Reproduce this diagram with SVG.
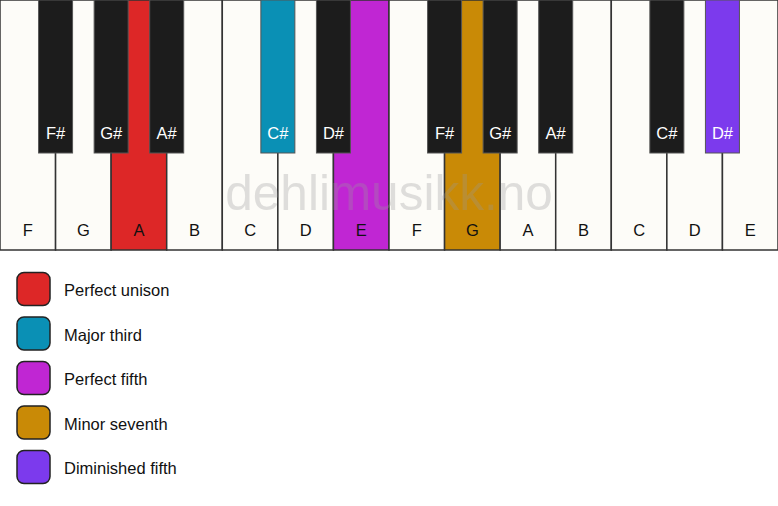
<svg xmlns="http://www.w3.org/2000/svg" width="778" height="506" viewBox="0 0 778 506">
<style>
.w{fill:#fdfcf8;stroke:#333;stroke-width:1.5}
.b{fill:#1c1c1c;stroke:#555;stroke-width:1}
.wl{font-family:"Liberation Sans",Arial,sans-serif;font-size:16.5px;fill:#111;text-anchor:middle}
.bl{font-family:"Liberation Sans",Arial,sans-serif;font-size:16.5px;fill:#fff;text-anchor:middle}
.lg{stroke:#222;stroke-width:1.5}
.lt{font-family:"Liberation Sans",Arial,sans-serif;font-size:16.5px;fill:#111}
</style>
<rect width="778" height="506" fill="#fff"/>
<g id="white-keys">
<g id="w0"><rect class="w" x="0" y="0" width="55.57" height="250"/><text class="wl" x="27.8" y="236">F</text></g>
<g id="w1"><rect class="w" x="55.57" y="0" width="55.57" height="250"/><text class="wl" x="83.4" y="236">G</text></g>
<g id="w2"><rect class="w" x="111.14" y="0" width="55.57" height="250" style="fill:#dd2727"/><text class="wl" x="138.9" y="236">A</text></g>
<g id="w3"><rect class="w" x="166.71" y="0" width="55.57" height="250"/><text class="wl" x="194.5" y="236">B</text></g>
<g id="w4"><rect class="w" x="222.29" y="0" width="55.57" height="250"/><text class="wl" x="250.1" y="236">C</text></g>
<g id="w5"><rect class="w" x="277.86" y="0" width="55.57" height="250"/><text class="wl" x="305.6" y="236">D</text></g>
<g id="w6"><rect class="w" x="333.43" y="0" width="55.57" height="250" style="fill:#c026d3"/><text class="wl" x="361.2" y="236">E</text></g>
<g id="w7"><rect class="w" x="389" y="0" width="55.57" height="250"/><text class="wl" x="416.8" y="236">F</text></g>
<g id="w8"><rect class="w" x="444.57" y="0" width="55.57" height="250" style="fill:#c98a06"/><text class="wl" x="472.4" y="236">G</text></g>
<g id="w9"><rect class="w" x="500.14" y="0" width="55.57" height="250"/><text class="wl" x="527.9" y="236">A</text></g>
<g id="w10"><rect class="w" x="555.71" y="0" width="55.57" height="250"/><text class="wl" x="583.5" y="236">B</text></g>
<g id="w11"><rect class="w" x="611.29" y="0" width="55.57" height="250"/><text class="wl" x="639.1" y="236">C</text></g>
<g id="w12"><rect class="w" x="666.86" y="0" width="55.57" height="250"/><text class="wl" x="694.6" y="236">D</text></g>
<g id="w13"><rect class="w" x="722.43" y="0" width="55.57" height="250"/><text class="wl" x="750.2" y="236">E</text></g>
</g>
<text x="389" y="210" font-family="'Liberation Sans',Arial,sans-serif" font-size="49.5" fill="#999" opacity="0.3" text-anchor="middle">dehlimusikk.no</text>
<g id="black-keys">
<g id="b1"><rect class="b" x="38.57" y="0" width="34" height="153"/><text class="bl" x="55.57" y="139">F#</text></g>
<g id="b2"><rect class="b" x="94.14" y="0" width="34" height="153"/><text class="bl" x="111.14" y="139">G#</text></g>
<g id="b3"><rect class="b" x="149.71" y="0" width="34" height="153"/><text class="bl" x="166.71" y="139">A#</text></g>
<g id="b5"><rect class="b" x="260.86" y="0" width="34" height="153" style="fill:#0a90b5"/><text class="bl" x="277.86" y="139">C#</text></g>
<g id="b6"><rect class="b" x="316.43" y="0" width="34" height="153"/><text class="bl" x="333.43" y="139">D#</text></g>
<g id="b8"><rect class="b" x="427.57" y="0" width="34" height="153"/><text class="bl" x="444.57" y="139">F#</text></g>
<g id="b9"><rect class="b" x="483.14" y="0" width="34" height="153"/><text class="bl" x="500.14" y="139">G#</text></g>
<g id="b10"><rect class="b" x="538.71" y="0" width="34" height="153"/><text class="bl" x="555.71" y="139">A#</text></g>
<g id="b12"><rect class="b" x="649.86" y="0" width="34" height="153"/><text class="bl" x="666.86" y="139">C#</text></g>
<g id="b13"><rect class="b" x="705.43" y="0" width="34" height="153" style="fill:#7c3aed"/><text class="bl" x="722.43" y="139">D#</text></g>
</g>
<g id="legend">
<g id="l1"><rect class="lg" x="17" y="272.5" width="33" height="33" rx="7" fill="#dd2727"/><text class="lt" x="64" y="296">Perfect unison</text></g>
<g id="l2"><rect class="lg" x="17" y="317" width="33" height="33" rx="7" fill="#0a90b5"/><text class="lt" x="64" y="340.5">Major third</text></g>
<g id="l3"><rect class="lg" x="17" y="361.5" width="33" height="33" rx="7" fill="#c026d3"/><text class="lt" x="64" y="385">Perfect fifth</text></g>
<g id="l4"><rect class="lg" x="17" y="406" width="33" height="33" rx="7" fill="#c98a06"/><text class="lt" x="64" y="429.5">Minor seventh</text></g>
<g id="l5"><rect class="lg" x="17" y="450.5" width="33" height="33" rx="7" fill="#7c3aed"/><text class="lt" x="64" y="474">Diminished fifth</text></g>
</g>
</svg>
